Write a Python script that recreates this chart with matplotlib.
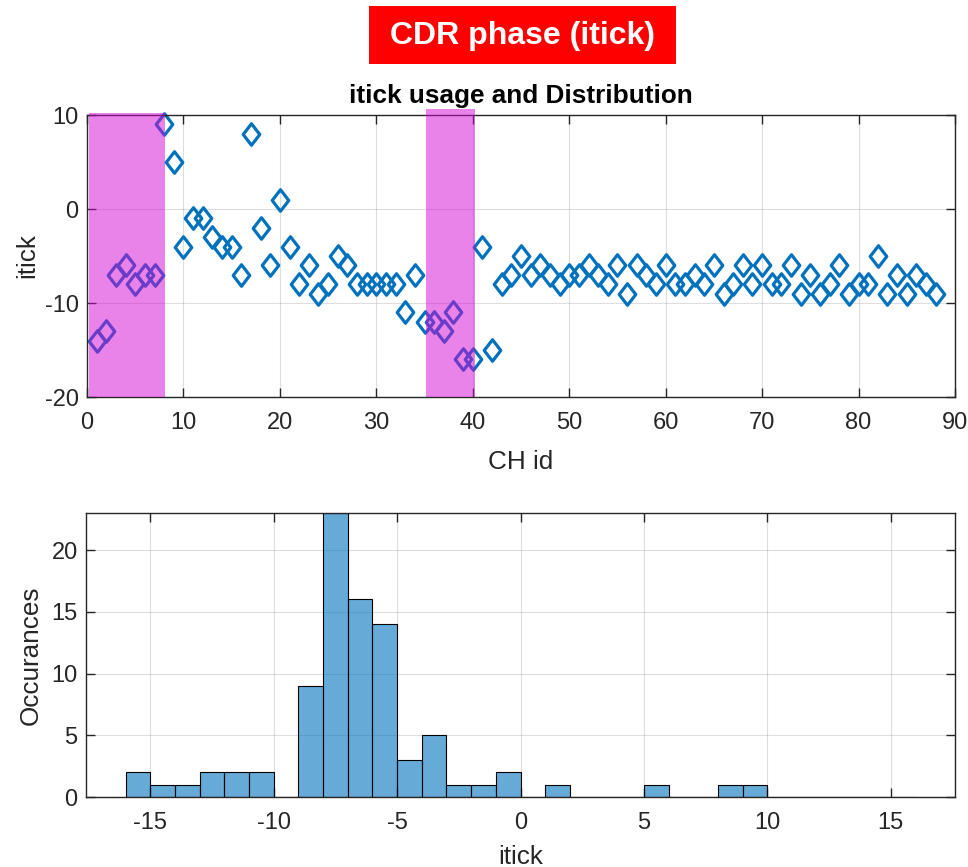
import numpy as np
import matplotlib
matplotlib.use("Agg")
import matplotlib.pyplot as plt
from matplotlib.path import Path as MPath
from matplotlib.patches import Rectangle

# itick value per channel, CH id 1..88
ch_id = list(range(1, 89))
itick = [
    -14, -13, -7, -6, -8, -7, -7, 9, 5, -4,
    -1, -1, -3, -4, -4, -7, 8, -2, -6, 1,
    -4, -8, -6, -9, -8, -5, -6, -8, -8, -8,
    -8, -8, -11, -7, -12, -12, -13, -11, -16, -16,
    -4, -15, -8, -7, -5, -7, -6, -7, -8, -7,
    -7, -6, -7, -8, -6, -9, -6, -7, -8, -6,
    -8, -8, -7, -8, -6, -9, -8, -6, -8, -6,
    -8, -8, -6, -9, -7, -9, -8, -6, -9, -8,
    -8, -5, -9, -7, -9, -7, -8, -9,
]
# highlighted CH id ranges
highlight_ranges = [(0.2, 8.1), (35.1, 40.2)]
hist_edges = list(range(-16, 17))

plt.rcParams["font.family"] = ["Liberation Sans", "DejaVu Sans"]
plt.rcParams["axes.unicode_minus"] = False
AX_COLOR = (0.15, 0.15, 0.15)
BLUE = (0.0, 0.447, 0.741)
TICK_FS = 17
LABEL_FS = 18.8


def style_axes(ax):
    for s in ax.spines.values():
        s.set_color(AX_COLOR)
        s.set_linewidth(1.0)
    ax.tick_params(direction="in", length=6.5, width=1.0, colors=AX_COLOR,
                   labelsize=TICK_FS, top=True, right=True)
    ax.tick_params(axis="x", pad=10.5)
    ax.tick_params(axis="y", pad=6)
    ax.grid(True, color=AX_COLOR, alpha=0.15, linewidth=0.8)
    ax.set_axisbelow(True)


fig = plt.figure(figsize=(9.68, 8.67), dpi=100)

# red header box
fig.patches.append(Rectangle((369 / 968, 1 - 64 / 867), 307 / 968, 58 / 867,
                             transform=fig.transFigure, facecolor="#ff0000",
                             edgecolor="none"))
fig.text(522.5 / 968, 1 - 36 / 867, "CDR phase (itick)", color="white",
         fontsize=23, fontweight="bold", ha="center", va="center")

# top: itick per channel
ax1 = fig.add_axes([87 / 968, 1 - 397 / 867, 868 / 968, 282 / 867])
style_axes(ax1)
diamond = MPath([(0, 1), (0.77, 0), (0, -1), (-0.77, 0), (0, 1)],
                [MPath.MOVETO, MPath.LINETO, MPath.LINETO, MPath.LINETO, MPath.CLOSEPOLY])
ax1.plot(ch_id, itick, linestyle="none", marker=diamond, markersize=15.5,
         markerfacecolor="none", markeredgecolor=BLUE, markeredgewidth=2.3,
         zorder=2, clip_on=False)
for i, (x0, x1) in enumerate(highlight_ranges):
    top = 1.008 if i == 0 else 1.02
    ax1.axvspan(x0, x1, ymin=0.0, ymax=top, color=(0.83, 0.03, 0.83),
                alpha=0.5, linewidth=0, zorder=3, clip_on=False)
ax1.set_xlim(0, 90)
ax1.set_ylim(-20, 10)
ax1.set_xticks(range(0, 91, 10))
ax1.set_yticks([-20, -10, 0, 10])
ax1.set_xlabel("CH id", fontsize=LABEL_FS, color=AX_COLOR, labelpad=12)
ax1.set_ylabel("itick", fontsize=LABEL_FS, color=AX_COLOR, labelpad=4)
ax1.set_title("itick usage and Distribution", fontsize=18.8, fontweight="bold",
              pad=9)

# bottom: histogram of itick
ax2 = fig.add_axes([86 / 968, 1 - 797 / 867, 869 / 968, 284 / 867])
style_axes(ax2)
ax2.hist(itick, bins=hist_edges, facecolor=(*BLUE, 0.6), edgecolor="black",
         linewidth=0.8, zorder=2)
ax2.set_xlim(-17.6, 17.6)
ax2.set_ylim(0, 23)
ax2.set_xticks([-15, -10, -5, 0, 5, 10, 15])
ax2.set_yticks([0, 5, 10, 15, 20])
ax2.set_xlabel("itick", fontsize=LABEL_FS, color=AX_COLOR, labelpad=8)
ax2.set_ylabel("Occurances", fontsize=LABEL_FS, color=AX_COLOR, labelpad=6)

fig.savefig("out.png", dpi=100)
